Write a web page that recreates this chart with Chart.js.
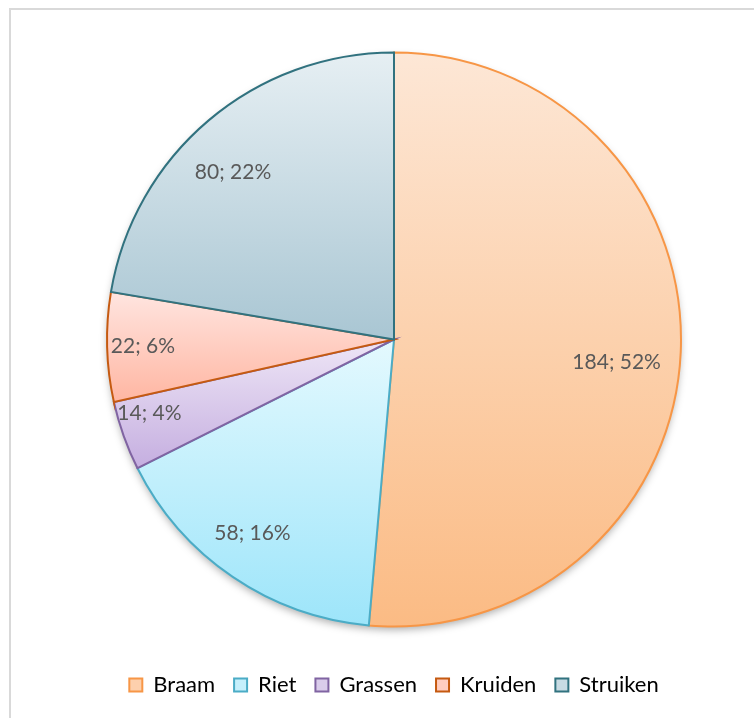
<!DOCTYPE html>
<html>
<head>
<meta charset="utf-8">
<script src="https://cdn.jsdelivr.net/npm/chart.js@4.4.1/dist/chart.umd.min.js"></script>
<style>
    html, body { margin: 0; padding: 0; background: #fff; }
    #wrap { position: relative; width: 754px; height: 718px; overflow: hidden; }
    #frame { position: absolute; left: 9px; top: 8px; width: 900px; height: 900px;
             border-left: 2px solid #d9d9d9; border-top: 2px solid #d9d9d9; }
    #pie { position: absolute; left: 0; top: 0; }
</style>
</head>
<body>
<div id="wrap">
    <div id="frame"></div>
    <canvas id="pie" width="754" height="718"></canvas>
</div>
<script>
const categories = ['Braam', 'Riet', 'Grassen', 'Kruiden', 'Struiken'];
const counts = [184, 58, 14, 22, 80];
const percents = [52, 16, 4, 6, 22];

const topColors = ['#fde7d6', '#e4f9fe', '#eee6f6', '#ffe5e0', '#e6eff3'];
const bottomColors = ['#fbbb84', '#9de5fa', '#c5aee0', '#ffb6a2', '#a9c6d3'];
const borderColors = ['#f79646', '#4bacc6', '#8064a2', '#c55a11', '#31727f'];
const legendFills = ['#fdd0ad', '#c6f0fc', '#dacdeb', '#ffcdc0', '#c8dbe3'];

// vertical gradient over each slice's own extent (Excel style)
function sliceGradient(context) {
    const i = context.dataIndex;
    const el = context.element;
    if (!el || el.x === undefined || !el.outerRadius) return bottomColors[i];
    const ys = [el.y];
    for (let k = 0; k <= 60; k++) {
        const a = el.startAngle + (el.endAngle - el.startAngle) * k / 60;
        ys.push(el.y + Math.sin(a) * el.outerRadius);
    }
    const g = context.chart.ctx.createLinearGradient(0, Math.min(...ys), 0, Math.max(...ys));
    g.addColorStop(0, topColors[i]);
    g.addColorStop(1, bottomColors[i]);
    return g;
}

const pieShadow = {
    id: 'pieShadow',
    beforeDatasetsDraw(chart) {
        const arc = chart.getDatasetMeta(0).data[0];
        if (!arc) return;
        const ctx = chart.ctx;
        ctx.save();
        ctx.shadowColor = 'rgba(0,0,0,0.35)';
        ctx.shadowBlur = 9;
        ctx.shadowOffsetY = 4;
        ctx.fillStyle = '#ffffff';
        ctx.beginPath();
        ctx.arc(arc.x, arc.y, arc.outerRadius - 1, 0, Math.PI * 2);
        ctx.fill();
        ctx.restore();
    }
};

const sliceLabels = {
    id: 'sliceLabels',
    afterDatasetsDraw(chart, args, opts) {
        const ctx = chart.ctx;
        ctx.save();
        ctx.font = opts.font;
        ctx.fillStyle = opts.color;
        ctx.textAlign = 'center';
        ctx.textBaseline = 'middle';
        chart.getDatasetMeta(0).data.forEach((arc, i) => {
            const mid = (arc.startAngle + arc.endAngle) / 2 + (opts.angleShift[i] || 0);
            const r = arc.outerRadius * opts.radius[i];
            ctx.fillText(counts[i] + '; ' + percents[i] + '%', arc.x + Math.cos(mid) * r, arc.y + Math.sin(mid) * r);
        });
        ctx.restore();
    }
};

const chart = new Chart(document.getElementById('pie').getContext('2d'), {
    type: 'pie',
    data: {
        labels: categories,
        datasets: [{
            data: counts,
            backgroundColor: sliceGradient,
            borderColor: borderColors,
            borderWidth: 2,
            borderJoinStyle: 'miter',
            radius: 287
        }]
    },
    options: {
        responsive: false,
        animation: false,
        layout: { padding: { left: 34, right: 0, top: 24, bottom: 12 } },
        plugins: {
            tooltip: { enabled: false },
            sliceLabels: {
                font: '21px Lato',
                color: '#595959',
                radius: [0.78, 0.835, 0.89, 0.875, 0.81],
                angleShift: [0.06, 0.035, 0.05, 0, -0.063]
            },
            legend: {
                position: 'bottom',
                labels: {
                    color: '#595959',
                    boxWidth: 13,
                    boxHeight: 13,
                    padding: 19,
                    font: { family: 'Lato', size: 22 },
                    generateLabels: () => categories.map((c, i) => ({
                        text: c,
                        fillStyle: legendFills[i],
                        strokeStyle: borderColors[i],
                        lineWidth: 2,
                        index: i
                    }))
                }
            }
        }
    },
    plugins: [pieShadow, sliceLabels]
});
chart.update('none');
</script>
</body>
</html>
